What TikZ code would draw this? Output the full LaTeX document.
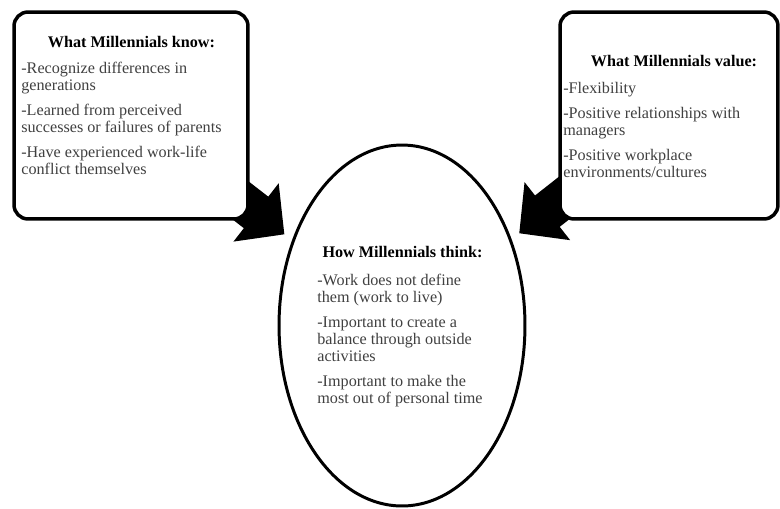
\documentclass[tikz,border=0pt]{standalone}
\usepackage{fontspec}
\setmainfont{Liberation Serif}
\usetikzlibrary{arrows.meta,shapes.geometric,backgrounds}

\begin{document}
\begin{tikzpicture}[x=0.02cm,y=-0.02cm,
	infobox/.style={draw,line width=2pt,rounded corners=8pt,fill=white},
	heading/.style={font=\fontsize{9.2}{9.6}\selectfont\bfseries,anchor=base,inner sep=0pt},
	points/.style={font=\fontsize{9.2}{9.6}\selectfont,text=black!75,align=left,anchor=base west,inner sep=0pt},
	fatarrow/.style={line width=22.7pt,-{Triangle[length=20.4pt 0 0,width=40.8pt 0 0]},shorten >=5.5pt}]
		\useasboundingbox (0,0) rectangle (780,508);
		%Boxes
		\node[infobox,minimum width=4.68cm,minimum height=4.14cm] (know) at (131,115.5) {};
		\node[infobox,minimum width=4.36cm,minimum height=4.14cm] (value) at (669,115.5) {};
		\node[ellipse,draw,line width=1.7pt,fill=white,minimum width=4.92cm,minimum height=7.22cm] (think) at (402,325.5) {};
		%Texts (lists sit on the baseline of their last line)
		\node[heading] (knowhead) at (131.5,47.5) {What Millennials know:};
		\node[points] (knowlist) at (21,174) {-Recognize differences in\\generations\\[4.6pt]-Learned from perceived\\successes or failures of parents\\[4.6pt]-Have experienced work-life\\conflict themselves};
		\node[heading] (valuehead) at (674,66.5) {What Millennials value:};
		\node[points] (valuelist) at (563,177) {-Flexibility\\[4.6pt]-Positive relationships with\\managers\\[4.6pt]-Positive workplace\\environments/cultures};
		\node[heading] (thinkhead) at (402.5,257.5) {How Millennials think:};
		\node[points] (thinklist) at (317,403) {-Work does not define\\them (work to live)\\[4.6pt]-Important to create a\\balance through outside\\activities\\[4.6pt]-Important to make the\\most out of personal time};
		%Arrows
		\begin{scope}[on background layer]
		\draw[fatarrow] (know.center) -- (think);
		\draw[fatarrow] (value.center) -- (think);
		\end{scope}
\end{tikzpicture}
\end{document}
